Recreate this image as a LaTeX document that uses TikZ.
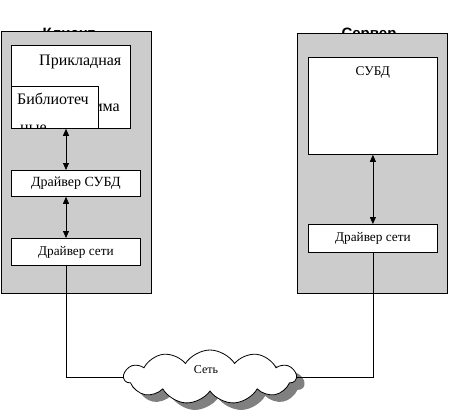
\documentclass[tikz,border=0pt]{standalone}
\usepackage{fontspec}
\setmainfont{Liberation Serif}
\newfontfamily\titlefont{Liberation Sans}
\usetikzlibrary{shapes.symbols,arrows.meta}
\definecolor{hatch}{rgb}{0.80,0.80,0.80}
\definecolor{shade}{rgb}{0.50,0.50,0.50}
\begin{document}
\begin{tikzpicture}[x=1pt,y=-1pt,
  outerbox/.style={draw,fill=hatch,anchor=north west,inner sep=0pt,line width=0.8pt},
  innerbox/.style={draw,fill=white,anchor=north west,inner sep=0pt,line width=0.8pt},
  titletext/.style={font=\titlefont\bfseries\fontsize{15}{18}\selectfont,anchor=base,inner sep=0pt},
  bigtext/.style={font=\fontsize{16}{19}\selectfont,anchor=base west,inner sep=0pt},
  smalltext/.style={font=\fontsize{13.3}{16}\selectfont,inner sep=0pt},
  cloudshape/.style={cloud,cloud puffs=11,cloud puff arc=115,aspect=3.2,minimum width=172pt,minimum height=54pt,inner sep=0pt},
  conn/.style={line width=0.8pt},
  dbl/.style={conn,{Triangle[length=7pt,width=6pt]}-{Triangle[length=7pt,width=6pt]}}
]
\useasboundingbox (0,0) rectangle (449,414);

% titles (mostly hidden behind the boxes)
\node[titletext] (ctitle) at (69,38.5) {Клиент};
\node[titletext] (stitle) at (369,38.5) {Сервер};

% outer boxes
\node[outerbox,minimum width=150pt,minimum height=262pt] (client) at (1,31) {};
\node[outerbox,minimum width=150pt,minimum height=260pt] (server) at (297,33) {};

% client side
\node[innerbox,minimum width=119pt,minimum height=83pt] (app) at (11,45) {};
\node[bigtext] (apptxt) at (39,66) {Прикладная};
\node[bigtext,anchor=base east] (apptxt2) at (120,112) {программа};
\node[innerbox,minimum width=87pt,minimum height=42pt] (lib) at (11,86) {};
\begin{scope}
  \clip (lib.north west) rectangle (lib.south east);
  \node[bigtext] (libtxt) at (17,105) {Библиотеч};
  \node[bigtext] (libtxt2) at (20,132.5) {ные};
\end{scope}
\node[innerbox,minimum width=129pt,minimum height=26pt] (dbdrvL) at (11,170) {};
\node[smalltext,font=\fontsize{14}{16}\selectfont] (dbdrvLt) at (dbdrvL.center) {Драйвер СУБД};
\node[innerbox,minimum width=129pt,minimum height=27pt] (netdrvL) at (11,238) {};
\node[smalltext] (netdrvLt) at (netdrvL.center) {Драйвер сети};

% server side
\node[innerbox,minimum width=129pt,minimum height=97pt] (dbms) at (308,57) {};
\node[smalltext,anchor=base] (dbmst) at ([yshift=-19pt]dbms.north) {СУБД};
\node[innerbox,minimum width=129pt,minimum height=28pt] (netdrvR) at (308,224) {};
\node[smalltext] (netdrvRt) at (netdrvR.center) {Драйвер сети};

% network cloud with shadow
\node[cloudshape,fill=shade] (netshadow) at (218,384) {};
\node[cloudshape,draw,fill=white,line width=0.8pt] (net) at (210,377) {};
\node[font=\fontsize{12}{14}\selectfont,inner sep=0pt] (nettxt) at (206,370) {Сеть};

% connectors
\coordinate (lx) at (66,0);
\draw[dbl] (lx |- lib.south) -- (lx |- dbdrvL.north);
\draw[dbl] (lx |- dbdrvL.south) -- (lx |- netdrvL.north);
\draw[dbl] (dbms.south) -- (netdrvR.north);
\draw[conn] (lx |- netdrvL.south) -- (lx |- net.west) -- (net.west);
\draw[conn] (netdrvR.south) -- (netdrvR.south |- net.east) -- (net.east);
\end{tikzpicture}
\end{document}
